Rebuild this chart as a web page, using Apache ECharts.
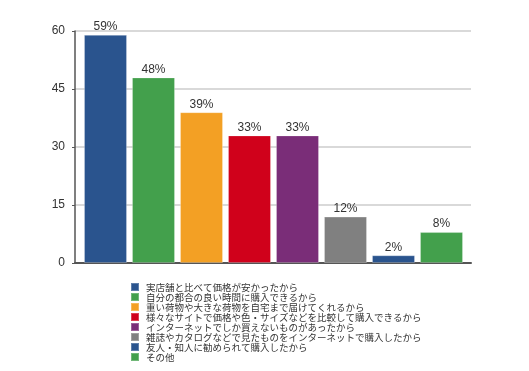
<!DOCTYPE html>
<html><head><meta charset="utf-8">
<script src="https://cdn.jsdelivr.net/npm/echarts@6/dist/echarts.min.js"></script>
<style>html,body{margin:0;padding:0;background:#fff}#c{width:529px;height:371px}</style>
</head><body><div id="c"></div>
<script>
const categories = [
  '実店舗と比べて価格が安かったから',
  '自分の都合の良い時間に購入できるから',
  '重い荷物や大きな荷物を自宅まで届けてくれるから',
  '様々なサイトで価格や色・サイズなどを比較して購入できるから',
  'インターネットでしか買えないものがあったから',
  '雑誌やカタログなどで見たものをインターネットで購入したから',
  '友人・知人に勧められて購入したから',
  'その他'
];
const values = [59, 48, 39, 33, 33, 12, 2, 8];
const colors = ['#2a548e', '#43a04c', '#f3a024', '#d0011b', '#7a2d78', '#808080', '#2a548e', '#43a04c'];
const yTicks = { min: 0, max: 60, interval: 15 };

const series = categories.map((name, i) => ({
  name: name,
  type: 'bar',
  stack: 'all',
  xAxisIndex: 1,
  yAxisIndex: 1,
  barWidth: 43,
  itemStyle: { color: colors[i], borderColor: 'rgba(255,255,255,0.25)', borderWidth: 1 },
  label: { show: true, position: 'top', distance: 2, formatter: '{c}%', color: '#333', fontSize: 12, fontFamily: 'Liberation Sans, Arial, sans-serif' },
  data: values.map((v, j) => j === i ? v : '-')
}));

const chart = echarts.init(document.getElementById('c'));
chart.setOption({
  animation: false,
  backgroundColor: '#fff',
  grid: [
    { left: 75, top: 31, width: 396, height: 232 },
    { left: 81.5, top: 31, width: 384, height: 232 }
  ],
  xAxis: [
    { gridIndex: 0, type: 'category', data: [''], axisLine: { show: true, lineStyle: { color: '#555', width: 2 } }, axisTick: { show: false }, axisLabel: { show: false } },
    { gridIndex: 1, type: 'category', data: categories, show: false }
  ],
  yAxis: [
    { gridIndex: 0, type: 'value', min: yTicks.min, max: yTicks.max, interval: yTicks.interval,
      axisLine: { show: true, lineStyle: { color: '#555', width: 1.5 } },
      axisTick: { show: true, length: 3, lineStyle: { color: '#555' } },
      axisLabel: { color: '#333', fontSize: 12, margin: 10, fontFamily: 'Liberation Sans, Arial, sans-serif' },
      splitLine: { show: true, lineStyle: { color: '#cccccc', width: 1.5 } } },
    { gridIndex: 1, type: 'value', min: yTicks.min, max: yTicks.max, interval: yTicks.interval, show: false, splitLine: { show: false } }
  ],
  legend: {
    orient: 'vertical',
    left: 130,
    top: 282,
    height: 90,
    padding: 0,
    icon: 'rect',
    itemWidth: 8,
    itemHeight: 8,
    itemGap: 0,
    selectedMode: false,
    textStyle: { fontSize: 9.5, lineHeight: 9.5, color: '#333', fontFamily: 'Noto Sans CJK JP, sans-serif', padding: [0, 0, 0, 2] },
    data: categories
  },
  series: series
});
</script></body></html>
